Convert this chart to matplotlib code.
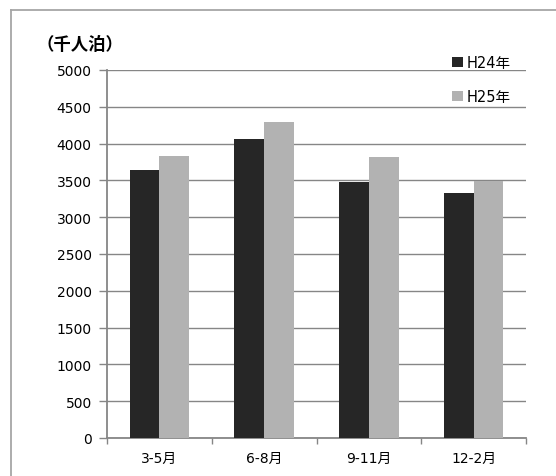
import matplotlib.pyplot as plt
import numpy as np
from matplotlib.lines import Line2D
from matplotlib.patches import Patch

plt.rcParams['font.family'] = ['DejaVu Sans', 'Noto Sans CJK JP']

categories = ['3-5月', '6-8月', '9-11月', '12-2月']
h24 = [3643, 4056, 3473, 3332]
h25 = [3829, 4295, 3812, 3490]
series_names = ['H24年', 'H25年']
colors = ['#262626', '#b2b2b2']
yticks = [0, 500, 1000, 1500, 2000, 2500, 3000, 3500, 4000, 4500, 5000]

fig = plt.figure(figsize=(5.56, 4.77), dpi=100)
ax = fig.add_axes([107 / 556, 38 / 477, 419 / 556, 368 / 477])

x = np.arange(len(categories))
w = 0.285
ax.bar(x - w / 2, h24, width=w, color=colors[0], zorder=3)
ax.bar(x + w / 2, h25, width=w, color=colors[1], zorder=3)

ax.set_xlim(-0.5, len(categories) - 0.5)
ax.set_ylim(0, 5000)
ax.set_yticks(yticks)
ax.set_yticklabels([str(t) for t in yticks], fontsize=10)
ax.yaxis.grid(True, color='#868686', linewidth=1.0, zorder=0)
ax.set_axisbelow(True)

ax.set_xticks(x)
ax.set_xticklabels(categories, fontsize=10)
ax.set_xticks(np.arange(-0.5, len(categories)), minor=True)
ax.tick_params(axis='x', which='major', length=0, pad=9)
ax.tick_params(axis='x', which='minor', length=4, color='#868686', width=1)
ax.tick_params(axis='y', length=6, color='#868686', width=1, pad=5)

for s in ['top', 'right']:
    ax.spines[s].set_visible(False)
for s in ['left', 'bottom']:
    ax.spines[s].set_color('#868686')
    ax.spines[s].set_linewidth(1.3)

fig.text(37 / 556, 1 - 44.5 / 477, '（千人泊）', fontsize=12.5, fontweight='bold',
         ha='left', va='center')

handles = [Patch(facecolor=colors[0]), Patch(facecolor=colors[1])]
fig.legend(handles, series_names, loc='upper left', bbox_to_anchor=(445 / 556, 1 - 49 / 477),
           frameon=False, fontsize=10.5, handlelength=0.7, handleheight=0.62,
           handletextpad=0.3, labelspacing=1.3, borderpad=0)

# outer frame (only left and top edges visible)
fig.add_artist(Line2D([11 / 556, 11 / 556], [0, 1 - 11 / 477], color='#a6a6a6', lw=1.3))
fig.add_artist(Line2D([11 / 556, 1], [1 - 11 / 477, 1 - 11 / 477], color='#a6a6a6', lw=1.3))

fig.savefig('out.png', dpi=100)
